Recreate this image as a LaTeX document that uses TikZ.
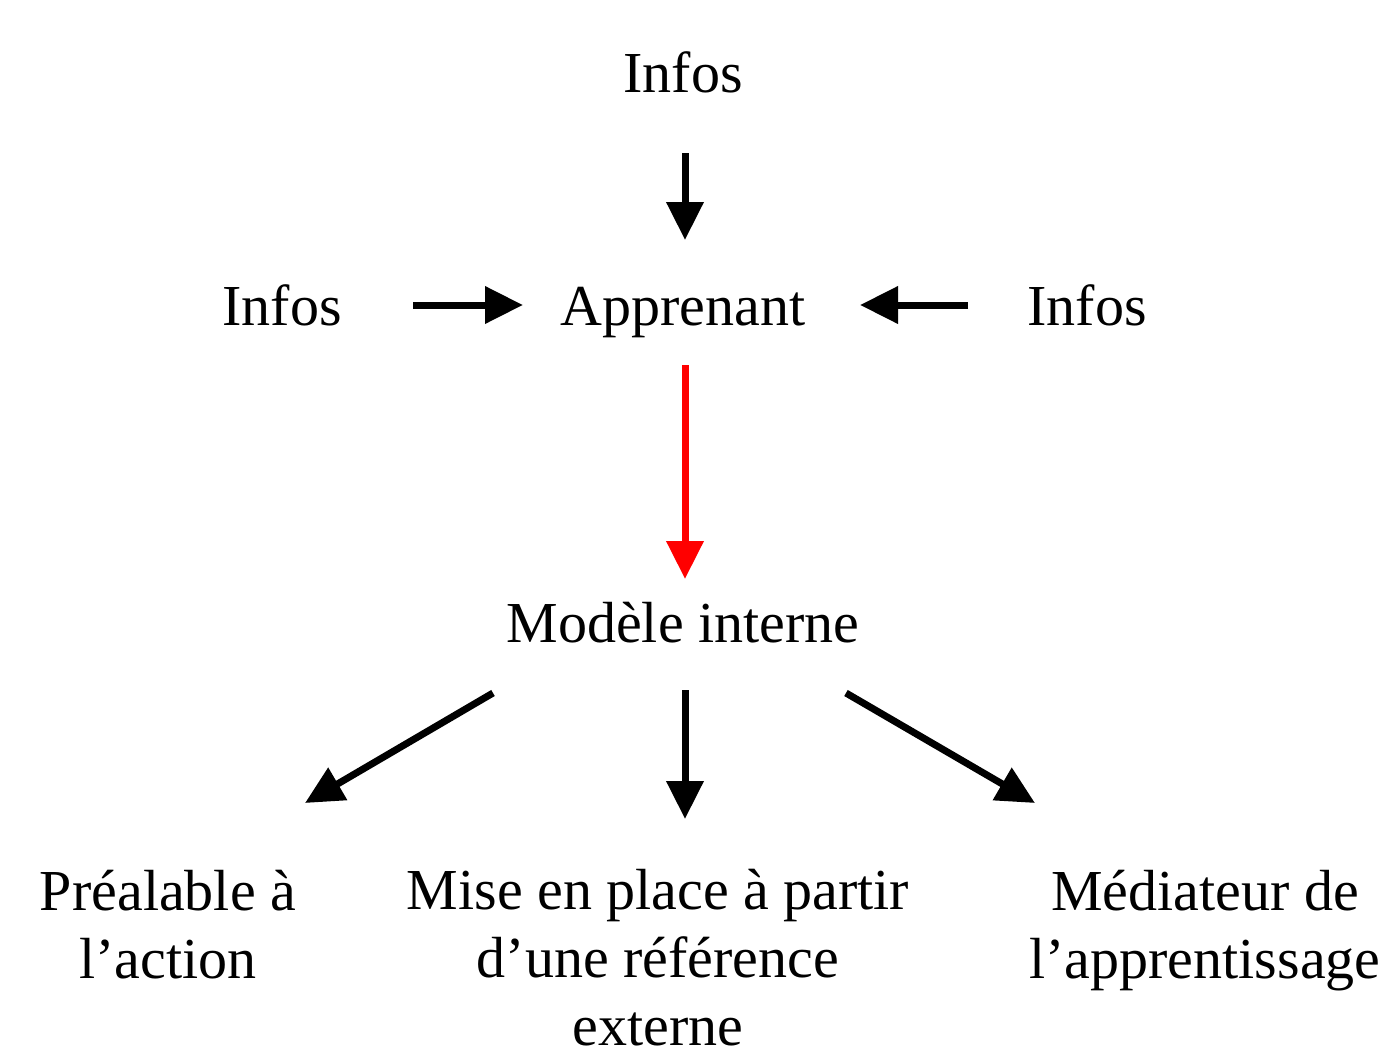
\documentclass[tikz,border=0pt]{standalone}
\usepackage{fontspec}
\setmainfont{Liberation Serif}
\usetikzlibrary{arrows.meta}
\begin{document}
\begin{tikzpicture}[x=0.5pt,y=-0.5pt,
  lbl/.style={inner sep=0pt,anchor=base,align=center,font=\fontsize{29}{34}\selectfont},
  arr/.style={line width=3.5pt,-{Triangle[length=19pt,width=18pt]}},
  redarr/.style={arr,red}]
\useasboundingbox (0,0) rectangle (1378,1055);
\node[lbl] (itop) at (683,92) {Infos};
\node[lbl] (ileft) at (282,325) {Infos};
\node[lbl] (app) at (683,325) {Apprenant};
\node[lbl] (iright) at (1087,325) {Infos};
\node[lbl] (mod) at (683,642) {Modèle interne};
\node[lbl] (pre) at (168,978) {Préalable à\\l’action};
\node[lbl] (mise) at (658,1045) {Mise en place à partir\\d’une référence\\externe};
\node[lbl] (med) at (1205,978) {Médiateur de\\l’apprentissage};
\coordinate (a1s) at (685,153); \coordinate (a1e) at (685,240);
\coordinate (a2s) at (413,305); \coordinate (a2e) at (523,305);
\coordinate (a3s) at (968,305); \coordinate (a3e) at (860,305);
\coordinate (a4s) at (685,365); \coordinate (a4e) at (685,579);
\coordinate (a5s) at (493,693); \coordinate (a5e) at (305,803);
\coordinate (a6s) at (685,690); \coordinate (a6e) at (685,819);
\coordinate (a7s) at (846,693); \coordinate (a7e) at (1035,803);
\draw[arr] (a1s) -- (a1e);
\draw[arr] (a2s) -- (a2e);
\draw[arr] (a3s) -- (a3e);
\draw[redarr] (a4s) -- (a4e);
\draw[arr] (a5s) -- (a5e);
\draw[arr] (a6s) -- (a6e);
\draw[arr] (a7s) -- (a7e);
\end{tikzpicture}
\end{document}
